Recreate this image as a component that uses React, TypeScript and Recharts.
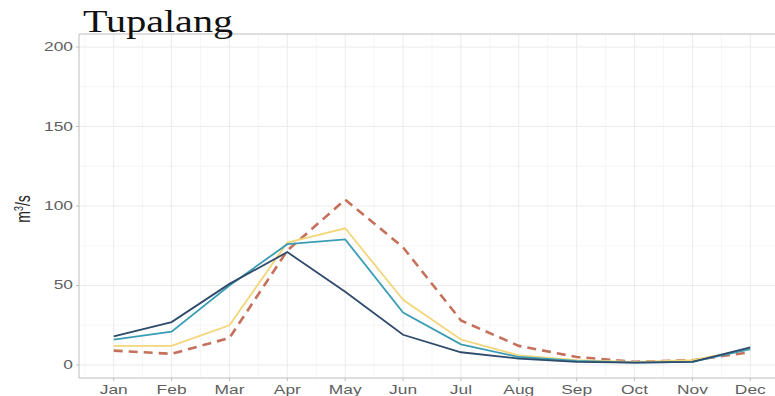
import React from 'react';
import {
  LineChart,
  Line,
  XAxis,
  YAxis,
  CartesianGrid,
  ReferenceLine,
} from 'recharts';

const months = ['Jan', 'Feb', 'Mar', 'Apr', 'May', 'Jun', 'Jul', 'Aug', 'Sep', 'Oct', 'Nov', 'Dec'];

// monthly mean discharge, m3/s
const seriesNavy = [18, 27, 51, 71, 46, 19, 8, 4, 2, 1.5, 2, 11];
const seriesTeal = [16, 21, 50, 76, 79, 33, 13, 5, 2.5, 1.5, 2, 10];
const seriesYellow = [12, 12, 25, 77, 86, 41, 16, 6, 3, 2, 3, 10];
const seriesDashed = [9, 7, 17, 72, 104, 74, 28, 12, 5, 2, 3, 8];

const yTicks = [0, 50, 100, 150, 200];
const xTicks = months.map((_, i) => i + 1);

const Y_MIN = -8.2;
const Y_MAX = 208.2;

const data = months.map((m, i) => ({
  idx: i + 1,
  name: m,
  navy: seriesNavy[i],
  teal: seriesTeal[i],
  yellow: seriesYellow[i],
  dashed: seriesDashed[i],
}));

// minor grid sits halfway between the major breaks
const minorX = [0.5, ...xTicks.map((t) => t + 0.5)];
const minorY = yTicks.map((t) => t + 25).filter((v) => v < Y_MAX);

const labelFont = "'Liberation Sans', Arial, sans-serif";
const STRETCH = 1.45;

function MonthTick(props: any) {
  const { x, y, payload } = props;
  return (
    <g transform={`translate(${x},${y + 10.5}) scale(${STRETCH},1)`}>
      <text x={0} y={0} textAnchor="middle" fontSize={12} fill="#5f5f5f" fontFamily={labelFont}>
        {months[payload.value - 1]}
      </text>
    </g>
  );
}

function ValueTick(props: any) {
  const { x, y, payload } = props;
  return (
    <g transform={`translate(${x - 1},${y + 4}) scale(${STRETCH},1)`}>
      <text x={0} y={0} textAnchor="end" fontSize={12} fill="#5f5f5f" fontFamily={labelFont}>
        {payload.value}
      </text>
    </g>
  );
}

export default function App() {
  return (
    <div
      style={{
        position: 'absolute',
        left: 0,
        top: 0,
        width: 775,
        height: 396,
        overflow: 'hidden',
        background: '#ffffff',
      }}
    >
      <svg
        width={775}
        height={396}
        style={{ position: 'absolute', left: 0, top: 0, pointerEvents: 'none', zIndex: 2 }}
      >
        <text
          x={83}
          y={32}
          fontSize={32}
          fontFamily="'Liberation Serif', 'Times New Roman', serif"
          fill="#111111"
          textLength={150}
          lengthAdjust="spacingAndGlyphs"
        >
          Tupalang
        </text>
        <g transform={`translate(23,209) scale(${STRETCH},1) rotate(-90)`}>
          <text x={0} y={0} dy="0.35em" textAnchor="middle" fontSize={14} fill="#222222" fontFamily={labelFont}>
            m<tspan fontSize={9} dy={-5}>3</tspan>
            <tspan dy={5}>/s</tspan>
          </text>
        </g>
      </svg>
      <LineChart
        width={790}
        height={396}
        data={data}
        margin={{ top: 34, right: 5, left: 0, bottom: 0 }}
      >
        <CartesianGrid
          stroke="#f5f5f5"
          strokeWidth={1}
          horizontalValues={minorY}
          verticalValues={minorX}
        />
        <CartesianGrid
          stroke="#ebebeb"
          strokeWidth={1}
          horizontalValues={yTicks}
          verticalValues={xTicks}
        />
        <XAxis
          dataKey="idx"
          type="number"
          domain={[0.4, 12.6]}
          ticks={xTicks}
          allowDataOverflow
          height={18}
          tickSize={3}
          tickMargin={2}
          stroke="#bdbdbd"
          tickLine={{ stroke: '#bdbdbd' }}
          tick={<MonthTick />}
        />
        <YAxis
          type="number"
          domain={[Y_MIN, Y_MAX]}
          ticks={yTicks}
          allowDataOverflow
          width={79}
          tickSize={3}
          tickMargin={2}
          stroke="#bdbdbd"
          tickLine={{ stroke: '#bdbdbd' }}
          tick={<ValueTick />}
        />
        <ReferenceLine y={Y_MAX} stroke="#bdbdbd" strokeWidth={1} />
        <Line
          dataKey="dashed"
          type="linear"
          stroke="#c4705b"
          strokeWidth={2.6}
          strokeDasharray="9 6"
          dot={false}
          isAnimationActive={false}
        />
        <Line
          dataKey="yellow"
          type="linear"
          stroke="#f3d57a"
          strokeWidth={1.8}
          dot={false}
          isAnimationActive={false}
        />
        <Line
          dataKey="teal"
          type="linear"
          stroke="#3a9db5"
          strokeWidth={1.8}
          dot={false}
          isAnimationActive={false}
        />
        <Line
          dataKey="navy"
          type="linear"
          stroke="#2f4a6b"
          strokeWidth={1.8}
          dot={false}
          isAnimationActive={false}
        />
      </LineChart>
    </div>
  );
}
